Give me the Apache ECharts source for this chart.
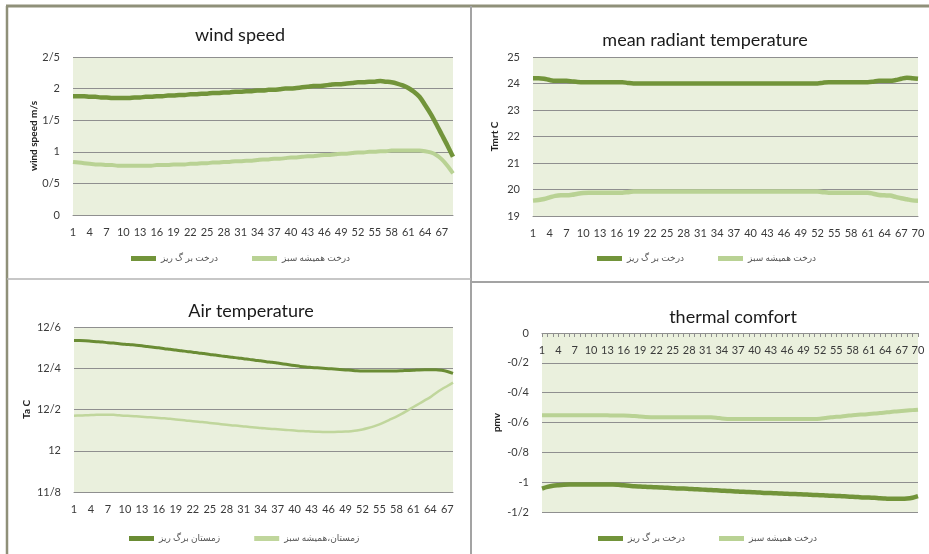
<!DOCTYPE html>
<html><head><meta charset="utf-8">
<script src="https://cdn.jsdelivr.net/npm/echarts/dist/echarts.min.js"></script>
<style>html,body{margin:0;padding:0;background:#fff}#c{width:929px;height:554px}</style>
</head><body><div id="c"></div>
<script>
// ---------- names ----------
const nameDeciduous = 'درخت بر گ ریز';
const nameEvergreen = 'درخت همیشه سبز';
const nameWinterDeciduous = 'زمستان برگ ریز';
const nameWinterEvergreen = 'زمستان،همیشه سبز';

// ---------- wind speed (m/s) ----------
const windDeciduous = [1.88,1.88,1.88,1.87,1.87,1.86,1.86,1.85,1.85,1.85,
  1.85,1.86,1.86,1.87,1.87,1.88,1.88,1.89,1.89,1.90,
  1.90,1.91,1.91,1.92,1.92,1.93,1.93,1.94,1.94,1.95,
  1.95,1.96,1.96,1.97,1.97,1.98,1.98,1.99,2.00,2.00,
  2.01,2.02,2.03,2.04,2.04,2.05,2.06,2.07,2.07,2.08,
  2.09,2.10,2.10,2.11,2.11,2.12,2.11,2.10,2.08,2.05,
  2.01,1.95,1.87,1.74,1.60,1.44,1.27,1.10,0.92];
const windEvergreen = [0.84,0.83,0.82,0.81,0.80,0.80,0.79,0.79,0.78,0.78,
  0.78,0.78,0.78,0.78,0.78,0.79,0.79,0.79,0.80,0.80,
  0.80,0.81,0.81,0.82,0.82,0.83,0.83,0.84,0.84,0.85,
  0.85,0.86,0.86,0.87,0.88,0.88,0.89,0.89,0.90,0.91,
  0.91,0.92,0.93,0.93,0.94,0.95,0.95,0.96,0.97,0.97,
  0.98,0.99,0.99,1.00,1.00,1.01,1.01,1.02,1.02,1.02,
  1.02,1.02,1.02,1.01,0.99,0.95,0.88,0.78,0.66];
const windYTicks = ['0','0/5','1','1/5','2','2/5'];

// ---------- mean radiant temperature (C) ----------
const mrtDeciduous = [24.20,24.20,24.18,24.13,24.10,24.10,24.10,24.08,24.06,24.05,
  24.05,24.05,24.05,24.05,24.05,24.05,24.05,24.02,24.00,24.00,
  24.00,24.00,24.00,24.00,24.00,24.00,24.00,24.00,24.00,24.00,
  24.00,24.00,24.00,24.00,24.00,24.00,24.00,24.00,24.00,24.00,
  24.00,24.00,24.00,24.00,24.00,24.00,24.00,24.00,24.00,24.00,
  24.00,24.00,24.03,24.05,24.05,24.05,24.05,24.05,24.05,24.05,
  24.05,24.07,24.10,24.10,24.10,24.13,24.18,24.22,24.20,24.18];
const mrtEvergreen = [19.58,19.60,19.64,19.70,19.76,19.78,19.78,19.80,19.84,19.87,
  19.88,19.88,19.88,19.88,19.88,19.88,19.88,19.90,19.92,19.92,
  19.92,19.92,19.92,19.92,19.92,19.92,19.92,19.92,19.92,19.92,
  19.92,19.92,19.92,19.92,19.92,19.92,19.92,19.92,19.92,19.92,
  19.92,19.92,19.92,19.92,19.92,19.92,19.92,19.92,19.92,19.92,
  19.92,19.92,19.90,19.88,19.88,19.88,19.88,19.88,19.88,19.88,
  19.88,19.84,19.79,19.78,19.77,19.72,19.67,19.63,19.59,19.58];
const mrtYTicks = ['19','20','21','22','23','24','25'];

// ---------- air temperature (C) ----------
const airDeciduous = [12.534,12.534,12.533,12.531,12.529,12.527,12.524,12.522,12.519,12.516,
  12.514,12.512,12.509,12.505,12.502,12.499,12.495,12.492,12.488,12.485,
  12.481,12.478,12.474,12.471,12.467,12.464,12.460,12.457,12.453,12.450,
  12.446,12.443,12.439,12.436,12.432,12.429,12.425,12.421,12.417,12.413,
  12.409,12.406,12.404,12.402,12.400,12.398,12.396,12.394,12.392,12.390,
  12.388,12.387,12.387,12.387,12.387,12.387,12.387,12.387,12.388,12.389,
  12.390,12.392,12.393,12.393,12.393,12.390,12.384,12.375];
const airEvergreen = [12.170,12.171,12.172,12.173,12.174,12.175,12.175,12.174,12.172,12.170,
  12.169,12.167,12.165,12.163,12.161,12.159,12.157,12.155,12.152,12.149,
  12.146,12.143,12.141,12.138,12.135,12.132,12.129,12.126,12.123,12.121,
  12.118,12.115,12.113,12.110,12.108,12.106,12.104,12.102,12.100,12.098,
  12.096,12.095,12.093,12.092,12.091,12.091,12.091,12.092,12.093,12.095,
  12.098,12.103,12.110,12.118,12.128,12.140,12.153,12.166,12.180,12.196,
  12.212,12.228,12.244,12.260,12.280,12.298,12.314,12.330];
const airYTicks = ['11/8','12','12/2','12/4','12/6'];

// ---------- thermal comfort (pmv) ----------
const pmvDeciduous = [-1.043,-1.032,-1.024,-1.020,-1.017,-1.016,-1.016,-1.016,-1.016,-1.016,
  -1.016,-1.016,-1.016,-1.016,-1.018,-1.021,-1.024,-1.027,-1.029,-1.031,
  -1.033,-1.034,-1.036,-1.038,-1.040,-1.042,-1.043,-1.045,-1.047,-1.049,
  -1.051,-1.053,-1.055,-1.057,-1.059,-1.061,-1.063,-1.065,-1.066,-1.068,
  -1.070,-1.072,-1.073,-1.075,-1.076,-1.078,-1.079,-1.081,-1.082,-1.084,
  -1.086,-1.087,-1.089,-1.091,-1.092,-1.094,-1.096,-1.098,-1.100,-1.102,
  -1.103,-1.105,-1.108,-1.110,-1.112,-1.112,-1.112,-1.110,-1.104,-1.094];
const pmvEvergreen = [-0.551,-0.551,-0.552,-0.552,-0.552,-0.552,-0.552,-0.552,-0.552,-0.552,
  -0.552,-0.552,-0.552,-0.553,-0.553,-0.553,-0.554,-0.556,-0.560,-0.563,
  -0.564,-0.564,-0.564,-0.564,-0.564,-0.564,-0.564,-0.564,-0.564,-0.564,
  -0.564,-0.565,-0.568,-0.573,-0.576,-0.577,-0.577,-0.577,-0.577,-0.577,
  -0.577,-0.577,-0.577,-0.577,-0.577,-0.577,-0.577,-0.577,-0.577,-0.577,
  -0.577,-0.575,-0.570,-0.565,-0.562,-0.559,-0.555,-0.551,-0.548,-0.546,
  -0.543,-0.540,-0.537,-0.533,-0.529,-0.526,-0.523,-0.520,-0.517,-0.514];
const pmvYTicks = ['-1/2','-1','-0/8','-0/6','-0/4','-0/2','0'];

// ---------- titles ----------
const titles = ['wind speed', 'mean radiant temperature', 'Air temperature', 'thermal comfort'];
const yNames = ['wind speed m/s', 'Tmrt C', 'Ta C', 'pmv'];

const cats = arr => arr.map((_, i) => String(i + 1));

const FONT = 'Lato, "DejaVu Sans", sans-serif';
const DARK = '#72943a';
const LIGHT = '#b9d294';
const GRIDC = '#8f8f8f';

function xAxisCfg(gi, data, extra) {
  return Object.assign({
    gridIndex: gi, type: 'category', boundaryGap: false, data: data,
    axisLine: { lineStyle: { color: GRIDC, width: 1 } },
    axisTick: { show: false },
    axisLabel: { interval: 2, fontSize: 11, color: '#3a3a3a', margin: 12, fontFamily: FONT, hideOverlap: false },
    splitLine: { show: false }
  }, extra || {});
}
function yAxisCfg(gi, min, max, interval, ticks, name, nameGap) {
  return {
    gridIndex: gi, type: 'value', min: min, max: max, interval: interval,
    name: name, nameLocation: 'middle', nameGap: nameGap, nameRotate: 90,
    nameTextStyle: { fontSize: 10, fontWeight: 'bold', color: '#222', fontFamily: FONT },
    axisLine: { show: false }, axisTick: { show: false },
    axisLabel: { fontSize: 11, color: '#3a3a3a', margin: 13, fontFamily: FONT,
      formatter: v => ticks[Math.round((v - min) / interval)] },
    splitLine: { lineStyle: { color: GRIDC, width: 1 } }
  };
}
function line(name, gi, data, color, width) {
  return { name: name, type: 'line', xAxisIndex: gi, yAxisIndex: gi, data: data,
    smooth: 0.3, showSymbol: false, symbol: 'none',
    lineStyle: { color: color, width: width }, itemStyle: { color: color } };
}
function legendCfg(left, top, names) {
  return { left: left, top: top, data: names, icon: 'rect', itemWidth: 25, itemHeight: 5, itemGap: 34,
    textStyle: { fontSize: 9, color: '#555', fontFamily: FONT } };
}
const gridBg = { show: true, backgroundColor: '#eaf0dd', borderWidth: 0 };

const option = {
  animation: false,
  backgroundColor: '#ffffff',
  grid: [
    Object.assign({ left: 73, top: 57, width: 380, height: 158 }, gridBg),
    Object.assign({ left: 533, top: 57, width: 385, height: 159 }, gridBg),
    Object.assign({ left: 74, top: 327, width: 379, height: 165 }, gridBg),
    Object.assign({ left: 542, top: 333, width: 376, height: 179 }, gridBg)
  ],
  xAxis: [
    xAxisCfg(0, cats(windDeciduous)),
    xAxisCfg(1, cats(mrtDeciduous)),
    xAxisCfg(2, cats(airDeciduous)),
    xAxisCfg(3, cats(pmvDeciduous), {
      position: 'top',
      axisTick: { show: true, inside: true, interval: 0, length: 4, lineStyle: { color: GRIDC } },
      axisLine: { onZero: false, lineStyle: { color: GRIDC, width: 1 } },
      axisLabel: { inside: true, interval: 2, fontSize: 11, color: '#3a3a3a', margin: 12, fontFamily: FONT, hideOverlap: false }
    })
  ],
  yAxis: [
    yAxisCfg(0, 0, 2.5, 0.5, windYTicks, yNames[0], 33),
    yAxisCfg(1, 19, 25, 1, mrtYTicks, yNames[1], 33),
    yAxisCfg(2, 11.8, 12.6, 0.2, airYTicks, yNames[2], 42),
    yAxisCfg(3, -1.2, 0, 0.2, pmvYTicks, yNames[3], 40)
  ],
  legend: [
    legendCfg(126, 249, [nameDeciduous, nameEvergreen]),
    legendCfg(592, 249, [nameDeciduous, nameEvergreen]),
    legendCfg(124, 529, [nameWinterDeciduous, nameWinterEvergreen]),
    legendCfg(593, 529, [nameDeciduous, nameEvergreen])
  ],
  series: [
    line(nameDeciduous, 0, windDeciduous, DARK, 4.5),
    line(nameEvergreen, 0, windEvergreen, LIGHT, 4),
    line(nameDeciduous, 1, mrtDeciduous, DARK, 4.5),
    line(nameEvergreen, 1, mrtEvergreen, LIGHT, 4.5),
    line(nameWinterDeciduous, 2, airDeciduous, '#6a8c34', 3),
    line(nameWinterEvergreen, 2, airEvergreen, '#c0d69c', 2.5),
    line(nameDeciduous, 3, pmvDeciduous, DARK, 4.5),
    line(nameEvergreen, 3, pmvEvergreen, LIGHT, 4)
  ],
  graphic: [
    { type: 'line', shape: { x1: 6, y1: 6, x2: 929, y2: 6 }, style: { stroke: '#8f9079', lineWidth: 3 } },
    { type: 'line', shape: { x1: 7, y1: 6, x2: 7, y2: 554 }, style: { stroke: '#8f9079', lineWidth: 2.5 } },
    { type: 'line', shape: { x1: 471, y1: 6, x2: 471, y2: 554 }, style: { stroke: '#a3a3a3', lineWidth: 2 } },
    { type: 'line', shape: { x1: 7, y1: 279, x2: 471, y2: 279 }, style: { stroke: '#b5b5b5', lineWidth: 1.5 } },
    { type: 'line', shape: { x1: 471, y1: 282, x2: 929, y2: 282 }, style: { stroke: '#a3a3a3', lineWidth: 2 } },
    { type: 'text', x: 240, y: 35, style: { text: titles[0], textAlign: 'center', textVerticalAlign: 'middle', fontSize: 18, fill: '#1a1a1a', fontFamily: FONT } },
    { type: 'text', x: 705, y: 40, style: { text: titles[1], textAlign: 'center', textVerticalAlign: 'middle', fontSize: 18, fill: '#1a1a1a', fontFamily: FONT } },
    { type: 'text', x: 251, y: 311, style: { text: titles[2], textAlign: 'center', textVerticalAlign: 'middle', fontSize: 18, fill: '#1a1a1a', fontFamily: FONT } },
    { type: 'text', x: 733, y: 317, style: { text: titles[3], textAlign: 'center', textVerticalAlign: 'middle', fontSize: 18, fill: '#1a1a1a', fontFamily: FONT } }
  ]
};
const chart = echarts.init(document.getElementById('c'), null, { renderer: 'canvas' });
chart.setOption(option);
</script>
</body></html>
